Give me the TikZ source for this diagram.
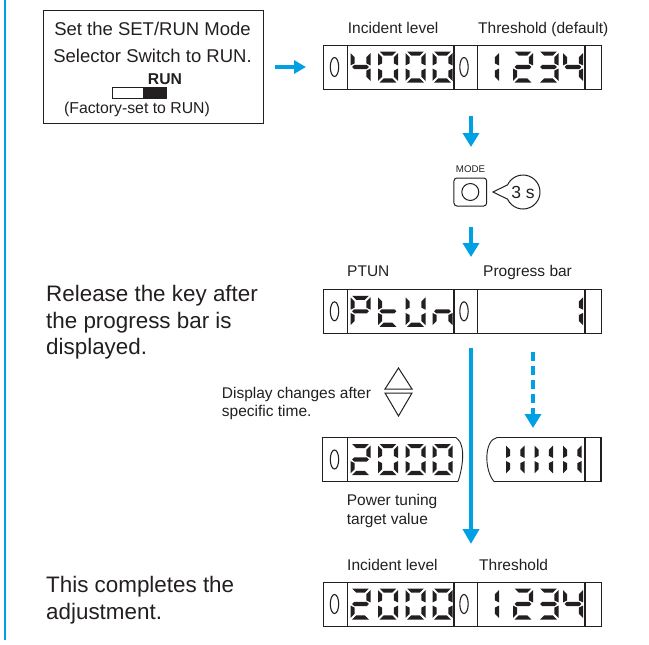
\documentclass[tikz,border=0pt]{standalone}
\usepackage{fontspec}
\setmainfont{Liberation Sans}
\usetikzlibrary{arrows.meta}
\definecolor{ink}{RGB}{35,31,32}
\definecolor{omblue}{RGB}{0,160,228}
\newcommand\Wd{20}
\newcommand\Hd{31}
\newcommand\Td{4.1}
\newcommand\sg{1.6}
\newcommand\segA{\fill[ink] (\sg,0) -- (\Wd-\sg,0) -- (\Wd-\sg-\Td,\Td) -- (\sg+\Td,\Td) -- cycle;}
\newcommand\segD{\fill[ink] (\sg,\Hd) -- (\Wd-\sg,\Hd) -- (\Wd-\sg-\Td,\Hd-\Td) -- (\sg+\Td,\Hd-\Td) -- cycle;}
\newcommand\segF{\fill[ink] (0,\sg) -- (\Td,\sg+\Td) -- (\Td,\Hd/2-\sg-\Td/2) -- (0,\Hd/2-\sg) -- cycle;}
\newcommand\segE{\fill[ink] (0,\Hd-\sg) -- (\Td,\Hd-\sg-\Td) -- (\Td,\Hd/2+\sg+\Td/2) -- (0,\Hd/2+\sg) -- cycle;}
\newcommand\segB{\fill[ink] (\Wd,\sg) -- (\Wd-\Td,\sg+\Td) -- (\Wd-\Td,\Hd/2-\sg-\Td/2) -- (\Wd,\Hd/2-\sg) -- cycle;}
\newcommand\segC{\fill[ink] (\Wd,\Hd-\sg) -- (\Wd-\Td,\Hd-\sg-\Td) -- (\Wd-\Td,\Hd/2+\sg+\Td/2) -- (\Wd,\Hd/2+\sg) -- cycle;}
\newcommand\segG{\fill[ink] (\sg,\Hd/2) -- (\sg+\Td/2,\Hd/2-\Td/2) -- (\Wd-\sg-\Td/2,\Hd/2-\Td/2) -- (\Wd-\sg,\Hd/2) -- (\Wd-\sg-\Td/2,\Hd/2+\Td/2) -- (\sg+\Td/2,\Hd/2+\Td/2) -- cycle;}
\newcommand\sdigit[3]{\begin{scope}[shift={(#1,#2)}]\foreach \s in {#3}{\csname seg\s\endcsname}\end{scope}}
\newcommand\dispframe[2]{%
  \node[fr, anchor=north west, minimum width=278.3pt, minimum height=44pt, inner sep=0pt] (#1) at (322.7,#2) {};
  \foreach \dx in {347.7,454,477.7,585}{\draw[fr] (\dx,#2) -- (\dx,#2+44);}
  \draw[fr] (334.5,#2+22) ellipse [x radius=4.2, y radius=9.5];
  \draw[fr] (464,#2+22) ellipse [x radius=4.2, y radius=9.5];}
\begin{document}
\begin{tikzpicture}[x=1pt,y=-1pt,
  fr/.style={draw=ink, line width=1.1pt},
  barrow/.style={draw=omblue, line width=4.5pt, -{Triangle[length=14pt,width=16pt]}},
  txtbig/.style={text=ink, inner sep=0pt, font=\fontsize{22.4}{26}\selectfont},
  txtbox/.style={text=ink, inner sep=0pt, font=\fontsize{18.5}{22}\selectfont},
  txtlab/.style={text=ink, inner sep=0pt, font=\fontsize{15.5}{18}\selectfont}]
\useasboundingbox (0,0) rectangle (649,645);
% left margin line
\draw[omblue, line width=2pt] (5,0) -- (5,640);
% top instruction box
\node[draw=ink, line width=1.2pt, anchor=north west, minimum width=220pt, minimum height=113pt, inner sep=0pt] (box) at (43,10) {};
\node[txtbox, anchor=base] (b1) at (152.5,35) {Set the SET/RUN Mode};
\node[txtbox, anchor=base] (b2) at (152.5,63) {Selector Switch to RUN.};
\node[text=ink, inner sep=0pt, anchor=base, font=\fontsize{15.7}{18}\selectfont\bfseries] (b3) at (165,84.5) {RUN};
\draw[ink, line width=0.8pt] (112,87) rectangle (166,98);
\fill[ink] (143,87) rectangle (166,98);
\node[text=ink, inner sep=0pt, anchor=base, font=\fontsize{15.8}{18}\selectfont] (b4) at (137,113) {(Factory-set to RUN)};
% display 1
\node[txtlab, anchor=base west] (l1) at (347.7,33.5) {Incident level};
\node[txtlab, anchor=base west] (l2) at (478,33.5) {Threshold (default)};
\dispframe{d1}{45}
\sdigit{350.5}{51.5}{B,C,F,G}
\sdigit{378}{51.5}{A,B,C,D,E,F}
\sdigit{405.5}{51.5}{A,B,C,D,E,F}
\sdigit{432.5}{51.5}{A,B,C,D,E,F}
\sdigit{479}{51.5}{B,C}
\sdigit{513}{51.5}{A,B,G,E,D}
\sdigit{538.5}{51.5}{A,B,G,C,D}
\sdigit{563}{51.5}{F,G,B,C}
% arrow box -> display
\coordinate (a1s) at (275,67);
\coordinate (a1e) at (306,67);
\draw[barrow, -{Triangle[length=12pt,width=13pt]}] (a1s) -- (a1e);
% arrow down to MODE
\coordinate (a2s) at (471,116);
\coordinate (a2e) at (471,147);
\draw[barrow] (a2s) -- (a2e);
% MODE key
\node[text=ink, inner sep=0pt, anchor=base, font=\fontsize{9.7}{11}\selectfont] (modelab) at (470.5,172.7) {MODE};
\node[draw=ink, line width=1pt, rounded corners=3pt, minimum width=32.7pt, minimum height=28pt, inner sep=0pt] (btn) at (470.3,192) {};
\node[circle, draw=ink, line width=1pt, minimum size=17pt, inner sep=0pt] (btnc) at (btn.center) {};
\coordinate (tail) at (493,192);
\draw[draw=ink, line width=1pt, fill=white] (tail) -- (507.6,199.2) arc[start angle=155, end angle=-155, radius=17] -- cycle;
\node[text=ink, inner sep=0pt, font=\fontsize{17.5}{20}\selectfont] (secs) at (523,192) {3 s};
% arrow down to PTUN
\coordinate (a3s) at (471,227);
\coordinate (a3e) at (471,257);
\draw[barrow] (a3s) -- (a3e);
% PTUN display
\node[txtlab, anchor=base west] (l3) at (347,276) {PTUN};
\node[txtlab, anchor=base west] (l4) at (483,276) {Progress bar};
\dispframe{d2}{289.3}
\sdigit{350.5}{295.8}{A,B,F,G,E}
\sdigit{378}{295.8}{F,E,G,D}
\sdigit{405.5}{295.8}{B,C,D,E,F}
\sdigit{432.5}{295.8}{E,G,C}
\sdigit{563}{295.8}{B,C}
% left texts
\node[txtbig, anchor=base west] (r1) at (46,301.5) {Release the key after};
\node[txtbig, anchor=base west] (r2) at (46,328) {the progress bar is};
\node[txtbig, anchor=base west] (r3) at (46,354.5) {displayed.};
\node[txtbig, anchor=base west] (c1) at (46,592.5) {This completes the};
\node[txtbig, anchor=base west] (c2) at (46,619.5) {adjustment.};
% display changes note
\node[txtlab, anchor=base west] (n1) at (221.7,398.3) {Display changes after};
\node[txtlab, anchor=base west] (n2) at (221.7,416.8) {specific time.};
\draw[ink, line width=1pt] (385,389) -- (412,389) -- (398.5,368) -- cycle;
\draw[ink, line width=1pt] (385,393) -- (412,393) -- (398.5,416) -- cycle;
% split display (left piece)
\draw[fr] (456,437.5) -- (322.7,437.5) -- (322.7,481.5) -- (458,481.5);
\draw[fr, line width=0.9pt] (456,437.5) .. controls (467,445) and (462,470) .. (458,481.5);
\draw[fr] (347.7,437.5) -- (347.7,481.5);
\draw[fr] (334.5,459.5) ellipse [x radius=4.2, y radius=9.5];
\sdigit{350.5}{444}{A,B,G,E,D}
\sdigit{378}{444}{A,B,C,D,E,F}
\sdigit{405.5}{444}{A,B,C,D,E,F}
\sdigit{432.5}{444}{A,B,C,D,E,F}
% split display (right piece)
\draw[fr] (497,437.5) -- (601,437.5) -- (601,481.5) -- (494,481.5);
\draw[fr, line width=0.9pt] (497,437.5) .. controls (484,440) and (484,470) .. (494,481.5);
\draw[fr] (585,437.5) -- (585,481.5);
\begin{scope}
\renewcommand\Wd{18.5}
\sdigit{506}{444}{B,C,E,F}
\sdigit{534.5}{444}{B,C,E,F}
\sdigit{563}{444}{B,C,E,F}
\end{scope}
\node[txtlab, anchor=base west] (p1) at (346.7,505.7) {Power tuning};
\node[txtlab, anchor=base west] (p2) at (346.7,524) {target value};
% long arrow and dashed arrow
\coordinate (a4s) at (471,348);
\coordinate (a4e) at (471,544);
\draw[barrow, -{Triangle[length=15pt,width=16pt]}] (a4s) -- (a4e);
\coordinate (a5s) at (533,352);
\coordinate (a5e) at (533,428);
\draw[barrow, dash pattern=on 9pt off 5pt] (a5s) -- (a5e);
% final display
\node[txtlab, anchor=base west] (l5) at (347,570) {Incident level};
\node[txtlab, anchor=base west] (l6) at (479,570) {Threshold};
\dispframe{d4}{582}
\sdigit{350.5}{588.5}{A,B,G,E,D}
\sdigit{378}{588.5}{A,B,C,D,E,F}
\sdigit{405.5}{588.5}{A,B,C,D,E,F}
\sdigit{432.5}{588.5}{A,B,C,D,E,F}
\sdigit{479}{588.5}{B,C}
\sdigit{513}{588.5}{A,B,G,E,D}
\sdigit{538.5}{588.5}{A,B,G,C,D}
\sdigit{563}{588.5}{F,G,B,C}
\end{tikzpicture}
\end{document}
